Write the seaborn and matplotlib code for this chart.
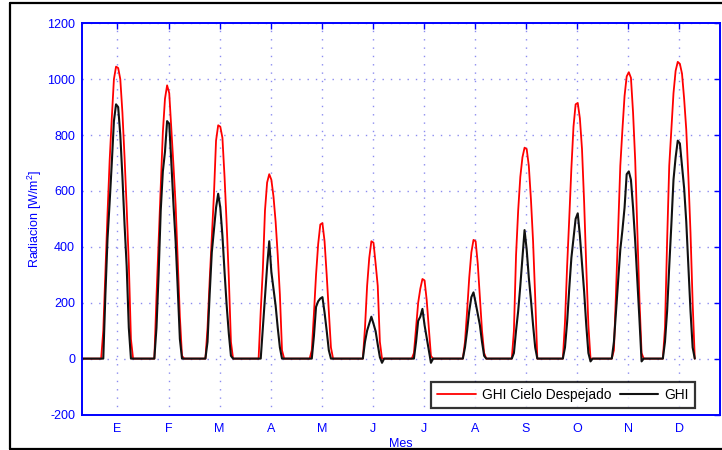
import numpy as np
import pandas as pd
import matplotlib
matplotlib.use("Agg")
import matplotlib.pyplot as plt
from matplotlib.lines import Line2D
import seaborn as sns

sns.set_theme(style="white")
plt.rcParams["font.family"] = ["Liberation Sans", "DejaVu Sans"]
plt.rcParams["mathtext.fontset"] = "custom"
plt.rcParams["mathtext.rm"] = "Liberation Sans"
plt.rcParams["mathtext.default"] = "rm"
plt.rcParams["axes.unicode_minus"] = False

# ---- data: hourly values (hours 0..23) of one representative day per month ----
meses = ["E", "F", "M", "A", "M", "J", "J", "A", "S", "O", "N", "D"]

# GHI cielo despejado (clear sky), W/m2
cs_ene = [0, 0, 0, 0, 0, 0, 0, 0, 0, 0, 100, 310, 520, 710, 860, 1000, 1045, 1040, 1000, 880, 720, 540, 340, 70]
cs_feb = [0, 0, 0, 0, 0, 0, 0, 0, 0, 0, 0, 220, 420, 630, 810, 930, 978, 950, 820, 690, 550, 350, 150, 10]
cs_mar = [0, 0, 0, 0, 0, 0, 0, 0, 0, 0, 0, 110, 280, 430, 585, 780, 835, 830, 790, 650, 480, 290, 60, 0]
cs_abr = [0, 0, 0, 0, 0, 0, 0, 0, 0, 0, 0, 0, 170, 320, 530, 630, 660, 640, 580, 490, 370, 230, 30, 0]
cs_may = [0, 0, 0, 0, 0, 0, 0, 0, 0, 0, 0, 0, 30, 160, 300, 410, 480, 485, 420, 300, 170, 40, 0, 0]
cs_jun = [0, 0, 0, 0, 0, 0, 0, 0, 0, 0, 0, 0, 0, 110, 260, 360, 420, 415, 340, 260, 60, 0, 0, 0]
cs_jul = [0, 0, 0, 0, 0, 0, 0, 0, 0, 0, 0, 0, 20, 110, 200, 250, 285, 280, 210, 110, 10, 0, 0, 0]
cs_ago = [0, 0, 0, 0, 0, 0, 0, 0, 0, 0, 0, 0, 60, 170, 290, 380, 425, 420, 340, 220, 100, 20, 0, 0]
cs_sep = [0, 0, 0, 0, 0, 0, 0, 0, 0, 0, 0, 100, 370, 530, 650, 720, 755, 750, 690, 570, 420, 220, 0, 0]
cs_oct = [0, 0, 0, 0, 0, 0, 0, 0, 0, 0, 0, 130, 330, 500, 680, 830, 910, 915, 860, 750, 560, 330, 120, 0]
cs_nov = [0, 0, 0, 0, 0, 0, 0, 0, 0, 0, 30, 240, 470, 690, 820, 940, 1010, 1025, 1005, 880, 710, 460, 210, 20]
cs_dic = [0, 0, 0, 0, 0, 0, 0, 0, 0, 0, 110, 420, 690, 820, 950, 1030, 1062, 1055, 1020, 930, 820, 650, 450, 200, 0]

# GHI medida, W/m2
ghi_ene = [0, 0, 0, 0, 0, 0, 0, 0, 0, 0, 0, 230, 430, 560, 700, 850, 910, 900, 800, 650, 480, 330, 110, 0]
ghi_feb = [0, 0, 0, 0, 0, 0, 0, 0, 0, 0, 0, 110, 300, 530, 670, 740, 850, 840, 700, 550, 420, 250, 70, 0]
ghi_mar = [0, 0, 0, 0, 0, 0, 0, 0, 0, 0, 0, 60, 230, 380, 460, 540, 590, 540, 440, 310, 190, 90, 10, 0]
ghi_abr = [0, 0, 0, 0, 0, 0, 0, 0, 0, 0, 0, 0, 0, 110, 220, 330, 420, 310, 250, 190, 110, 40, 0, 0]
ghi_may = [0, 0, 0, 0, 0, 0, 0, 0, 0, 0, 0, 0, 0, 80, 185, 205, 215, 220, 165, 100, 30, 0, 0, 0]
ghi_jun = [0, 0, 0, 0, 0, 0, 0, 0, 0, 0, 0, 0, 0, 60, 100, 125, 150, 125, 98, 50, 5, -15, 0, 0]
ghi_jul = [0, 0, 0, 0, 0, 0, 0, 0, 0, 0, 0, 0, 0, 60, 135, 150, 178, 120, 75, 30, -15, 0, 0, 0]
ghi_ago = [0, 0, 0, 0, 0, 0, 0, 0, 0, 0, 0, 0, 40, 100, 170, 220, 237, 200, 160, 120, 60, 10, 0, 0]
ghi_sep = [0, 0, 0, 0, 0, 0, 0, 0, 0, 0, 0, 20, 100, 170, 260, 360, 460, 390, 290, 210, 120, 40, 0, 0]
ghi_oct = [0, 0, 0, 0, 0, 0, 0, 0, 0, 0, 0, 40, 130, 250, 360, 430, 500, 520, 440, 340, 240, 120, 20, -10]
ghi_nov = [0, 0, 0, 0, 0, 0, 0, 0, 0, 0, 60, 170, 280, 390, 460, 540, 660, 670, 640, 540, 420, 280, 140, -10]
ghi_dic = [0, 0, 0, 0, 0, 0, 0, 0, 0, 0, 60, 170, 330, 480, 640, 720, 780, 770, 690, 610, 490, 330, 170, 40, 0]

cs = (cs_ene + cs_feb + cs_mar + cs_abr + cs_may + cs_jun +
      cs_jul + cs_ago + cs_sep + cs_oct + cs_nov + cs_dic)
ghi = (ghi_ene + ghi_feb + ghi_mar + ghi_abr + ghi_may + ghi_jun +
       ghi_jul + ghi_ago + ghi_sep + ghi_oct + ghi_nov + ghi_dic)

df = pd.DataFrame({"hora": np.arange(len(cs)), "cs": cs, "ghi": ghi})

BLUE = "#0000ff"
W, H = 722, 450
fig = plt.figure(figsize=(W / 100, H / 100), dpi=100)
x0, x1, yt, yb = 82, 720.3, 23.3, 414.5
ax = fig.add_axes([x0 / W, 1 - yb / H, (x1 - x0) / W, (yb - yt) / H])

sns.lineplot(data=df, x="hora", y="cs", color="#ff0000", lw=1.3, ax=ax,
             label="GHI Cielo Despejado")
sns.lineplot(data=df, x="hora", y="ghi", color="#111111", lw=1.5, ax=ax,
             label="GHI")

ax.set_xlim(0, 300)
ax.set_ylim(-200, 1200)
ax.set_xticks([16.67 + 24 * k for k in range(12)])
ax.set_xticklabels(meses)
ax.set_yticks(np.arange(-200, 1201, 200))

ax.set_axisbelow(True)
ax.grid(True, color="#8c8cf0", linestyle=(0, (1, 5)), linewidth=1.0)

for s in ax.spines.values():
    s.set_color(BLUE)
    s.set_linewidth(1.4)
ax.tick_params(direction="in", length=4, width=1, colors=BLUE, top=True,
               right=True, labelsize=9, pad=5)
ax.tick_params(axis="x", pad=6)

ax.set_xlabel("Mes", color=BLUE, fontsize=9, labelpad=2)
ax.set_ylabel("Radiacion [W/m$^2$]", color=BLUE, fontsize=9, labelpad=2)

leg = ax.legend(loc="lower right", bbox_to_anchor=(0.9604, 0.0166),
                borderaxespad=0, ncol=2, frameon=True, fancybox=False,
                edgecolor="black", fontsize=9.9, handlelength=2.8,
                handletextpad=0.45, columnspacing=0.6, borderpad=0.45)
leg.get_frame().set_linewidth(1.6)
for t in leg.get_texts():
    t.set_color("black")

# outer figure frame
bx, by_top, by_bot = 10 / W, 1 - 3.3 / H, 1 - 449 / H
fig.add_artist(Line2D([bx, bx], [by_bot, by_top], transform=fig.transFigure, color="black", lw=1.6))
fig.add_artist(Line2D([bx, 1], [by_top, by_top], transform=fig.transFigure, color="black", lw=1.6))
fig.add_artist(Line2D([bx, 1], [by_bot, by_bot], transform=fig.transFigure, color="black", lw=1.6))

fig.savefig("out.png", dpi=100)
